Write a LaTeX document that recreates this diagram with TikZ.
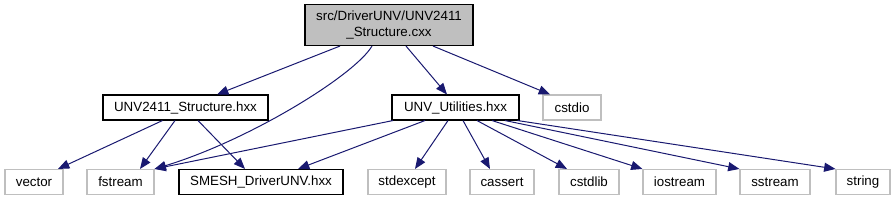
\documentclass[tikz,border=0pt]{standalone}
\usepackage{fontspec}
\setmainfont{Liberation Sans}
\usetikzlibrary{arrows.meta,calc}
\definecolor{edgeblue}{HTML}{191970}
\definecolor{filegray}{HTML}{BFBFBF}
\definecolor{sysline}{HTML}{BFBFBF}
\tikzset{
  hdr/.style={draw=black,fill=white,line width=0.8pt,minimum height=18.75pt,inner sep=0pt,
    font=\fontsize{10}{11.5}\selectfont},
  sys/.style={hdr,draw=sysline},
  dep/.style={->,edgeblue,line width=0.75pt}
}
\begin{document}
\begin{tikzpicture}[x=0.75pt,y=-0.75pt,>={Triangle[length=8.5pt,width=6.8pt]}]
\useasboundingbox (0,0) rectangle (895,201);
% file and its headers
\node[hdr,fill=filegray,minimum width=126pt,minimum height=30.75pt,align=center] (cxx) at (389,25)
  {src/DriverUNV/UNV2411\\\_Structure.cxx};
\node[hdr,minimum width=123.75pt] (structhxx) at (185.5,107.5) {UNV2411\_Structure.hxx};
\node[hdr,minimum width=95.25pt] (utilhxx) at (455.5,107.5) {UNV\_Utilities.hxx};
\node[sys,minimum width=43.5pt] (cstdio) at (572,107.5) {cstdio};
% bottom row
\node[sys,minimum width=43.5pt] (vector) at (34,182) {vector};
\node[sys,minimum width=50.25pt] (fstream) at (120.5,182) {fstream};
\node[hdr,minimum width=123pt] (smesh) at (261,182) {SMESH\_DriverUNV.hxx};
\node[sys,minimum width=58.5pt] (stdexcept) at (407,182) {stdexcept};
\node[sys,minimum width=48pt] (cassert) at (502,182) {cassert};
\node[sys,minimum width=45pt] (cstdlib) at (589,182) {cstdlib};
\node[sys,minimum width=54.75pt] (iostream) at (679.5,182) {iostream};
\node[sys,minimum width=52.5pt] (sstream) at (775,182) {sstream};
\node[sys,minimum width=40.5pt] (string) at (863,182) {string};

% includes of the .cxx
\draw[dep] ($(cxx.south)+(-49,0)$) -- ($(structhxx.north)+(31.5,0)$);
\draw[dep] ($(cxx.south)+(-17,0)$) .. controls (355,75) and (250,140) .. (fstream.north east);
\draw[dep] ($(cxx.south)+(17,0)$) -- ($(utilhxx.north)+(-8.5,0)$);
\draw[dep] ($(cxx.south)+(44,0)$) -- ($(cstdio.north)+(-22,0)$);
% UNV2411_Structure.hxx
\draw[dep] ($(structhxx.south)+(-23,0)$) -- ($(vector.north)+(24,0)$);
\draw[dep] ($(structhxx.south)+(-10.5,0)$) -- ($(fstream.north)+(19.5,0)$);
\draw[dep] ($(structhxx.south)+(12.5,0)$) -- ($(smesh.north)+(-16,0)$);
% UNV_Utilities.hxx
\draw[dep] ($(utilhxx.south)+(-62.5,0)$) -- (fstream.north east);
\draw[dep] ($(utilhxx.south)+(-30.5,0)$) -- ($(smesh.north)+(37,0)$);
\draw[dep] ($(utilhxx.south)+(-7.5,0)$) -- ($(stdexcept.north)+(8,0)$);
\draw[dep] ($(utilhxx.south)+(7.5,0)$) -- ($(cassert.north)+(-12,0)$);
\draw[dep] ($(utilhxx.south)+(21.5,0)$) -- ($(cstdlib.north)+(-22,0)$);
\draw[dep] ($(utilhxx.south)+(36.5,0)$) -- (iostream.north west);
\draw[dep] ($(utilhxx.south)+(49.5,0)$) -- (sstream.north west);
\draw[dep] ($(utilhxx.south)+(62,0)$) -- (string.north west);
\end{tikzpicture}
\end{document}
